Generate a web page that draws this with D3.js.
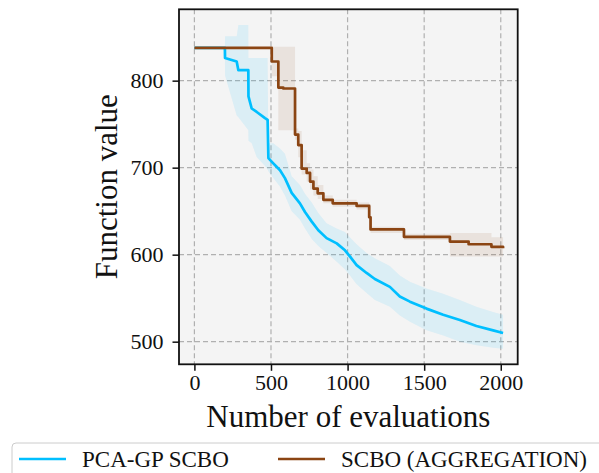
<!DOCTYPE html>
<html lang="en">

<head>
    <meta charset="UTF-8">
    <title>Function value vs evaluations</title>
    <script src="https://d3js.org/d3.v7.min.js"></script>
    <style>
        body {
            margin: 0;
            background: white;
        }

        text {
            font-family: "Liberation Serif", "DejaVu Serif", serif;
            fill: #111;
        }

        .grid line {
            stroke: #b0b0b0;
            stroke-width: 1.2px;
            stroke-dasharray: 5, 3;
        }
    </style>
</head>

<body>
    <svg width="599" height="473"></svg>

    <script>
        // series
        const seriesNames = ["PCA-GP SCBO", "SCBO (AGGREGATION)"];

        const blueX = [0, 199, 200, 276, 287, 352, 353, 374, 407, 461, 478, 483, 515, 559, 591, 635, 689, 722, 766, 809, 863, 929, 983, 1015, 1059, 1124, 1178, 1276, 1341, 1407, 1515, 1624, 1733, 1841, 1950, 2015];
        const blueMean = [837.6, 837.6, 826, 822, 812, 812, 782, 768, 764, 757, 755, 711, 705, 697, 688, 671, 659, 649, 638, 628, 619, 613, 605, 598, 588, 579, 572, 563, 552, 546, 538, 531, 525, 518, 513, 510];
        const blueUpper = [837.6, 837.6, 851, 851, 864, 864, 826, 826, 826, 826, 826, 728, 728, 722, 716, 690, 680, 670, 660, 648, 636, 630, 626, 620, 612, 602, 596, 587, 576, 569, 561, 555, 548, 540, 534, 531];
        const blueLower = [837.6, 837.6, 806, 760, 758, 743, 731, 728, 712, 702, 698, 696, 688, 678, 668, 650, 640, 630, 618, 610, 602, 592, 583, 576, 566, 556, 548, 540, 530, 523, 513, 507, 500, 496, 493, 492];

        const brownX = [0, 505, 548, 580, 657, 678, 700, 733, 755, 777, 805, 842, 903, 1059, 1141, 1150, 1368, 1668, 1790, 1939, 2015];
        const brownMean = [837.6, 822, 792, 791, 738, 726, 699, 694, 684, 676, 670.5, 663, 659, 656, 643, 629, 620.5, 615, 612, 609, 607.5];
        const brownUpper = [837.6, 839, 839, 839, 745, 742, 720, 705, 698, 690, 680, 668, 663, 660, 658, 632, 624, 625, 625, 620, 619];
        const brownLower = [837.6, 805, 743, 743, 732, 712, 692, 684, 675, 668, 664, 659, 655, 652, 628, 625, 617, 598, 598, 598, 598];

        const xTicks = [0, 500, 1000, 1500, 2000];
        const yTicks = [500, 600, 700, 800];

        // plot box
        const plotLeft = 179, plotRight = 517.7, plotTop = 9.3, plotBottom = 364.3;

        const svg = d3.select("svg");

        const x = d3.scaleLinear().domain([-100.5, 2110.5]).range([plotLeft, plotRight]);
        const y = d3.scaleLinear().domain([474, 882]).range([plotBottom, plotTop]);

        svg.append("rect")
            .attr("x", plotLeft).attr("y", plotTop)
            .attr("width", plotRight - plotLeft).attr("height", plotBottom - plotTop)
            .attr("fill", "#f4f4f4");

        // grid
        const grid = svg.append("g").attr("class", "grid");
        grid.selectAll(".gx").data(xTicks).enter().append("line")
            .attr("x1", d => x(d)).attr("x2", d => x(d))
            .attr("y1", plotTop).attr("y2", plotBottom);
        grid.selectAll(".gy").data(yTicks).enter().append("line")
            .attr("x1", plotLeft).attr("x2", plotRight)
            .attr("y1", d => y(d)).attr("y2", d => y(d));

        function drawSeries(xs, mean, up, lo, color, curve) {
            const pts = xs.map((v, i) => ({ x: v, m: mean[i], u: up[i], l: lo[i] }));
            const area = d3.area().curve(curve)
                .x(d => x(d.x)).y0(d => y(d.l)).y1(d => y(d.u));
            const line = d3.line().curve(curve)
                .x(d => x(d.x)).y(d => y(d.m));
            svg.append("path").datum(pts)
                .attr("d", area)
                .attr("fill", color)
                .attr("fill-opacity", 0.1);
            svg.append("path").datum(pts)
                .attr("d", line)
                .attr("fill", "none")
                .attr("stroke", color)
                .attr("stroke-width", 2.7)
                .attr("stroke-linejoin", "round");
        }

        drawSeries(blueX, blueMean, blueUpper, blueLower, "#00bfff", d3.curveLinear);
        drawSeries(brownX, brownMean, brownUpper, brownLower, "#8b4513", d3.curveStepAfter);

        // frame
        svg.append("rect")
            .attr("x", plotLeft).attr("y", plotTop)
            .attr("width", plotRight - plotLeft).attr("height", plotBottom - plotTop)
            .attr("fill", "none")
            .attr("stroke", "#111")
            .attr("stroke-width", 1.8);

        // axes
        const xAxis = d3.axisBottom(x).tickValues(xTicks).tickSize(6.5).tickPadding(4).tickFormat(d3.format("d"));
        const yAxis = d3.axisLeft(y).tickValues(yTicks).tickSize(6.5).tickPadding(9).tickFormat(d3.format("d"));

        const gx = svg.append("g").attr("transform", `translate(0,${plotBottom})`).call(xAxis);
        const gy = svg.append("g").attr("transform", `translate(${plotLeft},0)`).call(yAxis);
        [gx, gy].forEach(g => {
            g.select(".domain").remove();
            g.selectAll(".tick line").attr("stroke", "#111").attr("stroke-width", 1.5);
            g.selectAll(".tick text")
                .attr("font-size", "22px")
                .attr("font-family", "Liberation Serif, serif")
                .attr("fill", "#111");
        });

        // axis labels
        svg.append("text")
            .attr("x", (plotLeft + plotRight) / 2)
            .attr("y", 427)
            .attr("text-anchor", "middle")
            .attr("font-size", "31px")
            .text("Number of evaluations");

        svg.append("text")
            .attr("transform", `translate(117,${(plotTop + plotBottom) / 2}) rotate(-90)`)
            .attr("text-anchor", "middle")
            .attr("font-size", "31px")
            .text("Function value");

        // legend
        const legend = svg.append("g");
        legend.append("rect")
            .attr("x", 12).attr("y", 443)
            .attr("width", 620).attr("height", 60)
            .attr("rx", 4)
            .attr("fill", "white")
            .attr("fill-opacity", 0.8)
            .attr("stroke", "#cccccc")
            .attr("stroke-width", 1);

        const legendItems = [
            { name: seriesNames[0], color: "#00bfff", x0: 19 },
            { name: seriesNames[1], color: "#8b4513", x0: 278 }
        ];
        legendItems.forEach(d => {
            legend.append("line")
                .attr("x1", d.x0).attr("x2", d.x0 + 47)
                .attr("y1", 459).attr("y2", 459)
                .attr("stroke", d.color)
                .attr("stroke-width", 2.7);
            legend.append("text")
                .attr("x", d.x0 + 63)
                .attr("y", 466.5)
                .attr("font-size", "23px")
                .text(d.name);
        });
    </script>
</body>

</html>
